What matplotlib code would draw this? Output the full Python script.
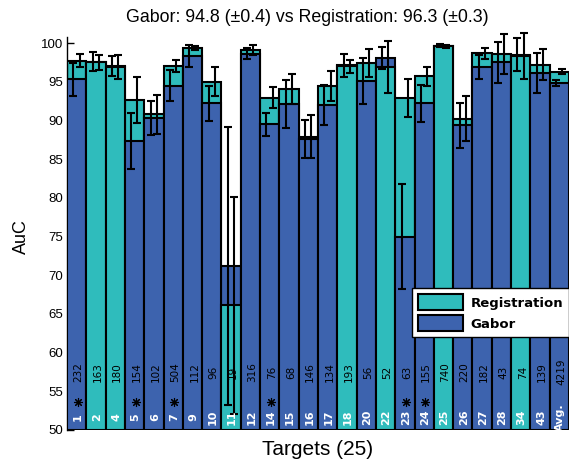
import numpy as np
import matplotlib
matplotlib.use('Agg')
import matplotlib.pyplot as plt
from matplotlib.patches import Patch

# data
targets = ['1', '2', '4', '5', '6', '7', '9', '10', '11', '12', '14', '15', '16',
           '17', '18', '20', '22', '23', '24', '25', '26', '27', '28', '34', '43', 'Avg.']
counts = [232, 163, 180, 154, 102, 504, 112, 96, 19, 316, 76, 68, 146,
          134, 193, 56, 52, 63, 155, 740, 220, 182, 43, 74, 139, 4219]
starred = ['1', '5', '7', '14', '23', '24']

gabor = [95.3, 97.6, 97.0, 87.3, 90.3, 94.5, 98.3, 92.2, 71.2, 98.6, 89.5, 92.1, 87.6,
         92.0, 97.1, 95.1, 98.1, 75.0, 92.2, 99.65, 89.4, 96.85, 97.5, 98.5, 96.1, 94.8]
gabor_err = [2.1, 1.2, 1.3, 3.6, 2.2, 2.0, 1.4, 2.3, 18.0, 0.7, 1.5, 3.1, 2.5,
             2.6, 1.5, 3.0, 1.45, 6.8, 2.35, 0.2, 2.9, 1.55, 2.7, 2.1, 2.6, 0.4]
reg = [97.7, 97.5, 96.9, 92.65, 90.8, 97.0, 99.35, 95.0, 66.1, 99.1, 92.95, 94.1, 87.9,
       94.4, 97.0, 97.4, 96.9, 92.9, 95.7, 99.6, 90.25, 98.7, 98.6, 98.3, 97.2, 96.3]
reg_err = [0.85, 1.0, 1.5, 3.0, 2.5, 0.75, 0.3, 1.9, 14.0, 0.6, 1.35, 1.95, 2.75,
           1.95, 0.85, 1.8, 3.35, 2.4, 1.2, 0.2, 2.85, 0.7, 2.6, 3.0, 2.0, 0.3]

teal = '#2FBCBC'
blue = '#3D63AE'
base = 50

fig = plt.figure(figsize=(5.69, 4.68), dpi=100)
ax = fig.add_axes([0.1178, 0.0812, 0.8822, 0.8268])

x = np.arange(len(targets))
# taller bar behind, shorter one in front
for i in x:
    g = gabor[i] - base
    r = reg[i] - base
    zg, zr = (2, 3) if g >= r else (3, 2)
    ax.bar(i, g, bottom=base, width=1.0, color=blue, edgecolor='black', linewidth=1.5, zorder=zg)
    ax.bar(i, r, bottom=base, width=1.0, color=teal, edgecolor='black', linewidth=1.5, zorder=zr)

eb_kw = dict(fmt='none', ecolor='black', elinewidth=1.5, capsize=2.6, capthick=1.5, zorder=5)
e1 = ax.errorbar(x - 0.17, gabor, yerr=gabor_err, **eb_kw)
e2 = ax.errorbar(x + 0.15, reg, yerr=reg_err, **eb_kw)
for e in (e1, e2):
    for art in e.lines[1] + e.lines[2]:
        art.set_clip_on(False)

# labels inside the bars
for i, t in enumerate(targets):
    ax.text(i + 0.05, 51.7, t, rotation=90, ha='center', va='center', color='white',
            fontsize=8, fontweight='bold', zorder=6)
    ax.text(i + 0.1, 57.5, str(counts[i]), rotation=90, ha='center', va='center',
            color='black', fontsize=7.5, zorder=6)

# asterisks for the marked targets
star_x = [targets.index(t) + 0.05 for t in starred]
ax.plot(star_x, [53.6] * len(star_x), linestyle='none', marker=(8, 2, 0),
        markersize=6.5, markeredgewidth=0.8, color='black', zorder=6)

ax.set_xlim(-0.5, len(targets) - 0.5)
ax.set_ylim(50, 100)
ax.set_yticks(np.arange(50, 101, 5))
ax.set_xticks([])
ax.tick_params(axis='y', direction='in', length=5, width=1, labelsize=9.5, pad=3)
for s in ['top', 'right', 'bottom']:
    ax.spines[s].set_visible(False)
ax.spines['left'].set_linewidth(1)
ax.spines['left'].set_bounds(50, 100.8)

for lab in ax.get_yticklabels():
    lab.set_family('Liberation Sans')
ax.set_ylabel('AuC', fontsize=13, family='Liberation Sans', labelpad=8)
ax.set_xlabel('Targets (25)', fontsize=15, family='Liberation Sans', labelpad=7)
fig.text(0.54, 0.963, 'Gabor: 94.8 (\u00b10.4) vs Registration: 96.3 (\u00b10.3)',
         ha='center', va='center', fontsize=12.8, family='Liberation Sans')

handles = [Patch(facecolor=teal, edgecolor='black', linewidth=1.5, label='Registration'),
           Patch(facecolor=blue, edgecolor='black', linewidth=1.5, label='Gabor')]
leg = ax.legend(handles=handles, loc='lower right', bbox_to_anchor=(1.0, 0.24),
                prop={'weight': 'bold', 'size': 9.5}, handlelength=3.4, handleheight=1.5,
                fancybox=False, framealpha=1, edgecolor='black', borderpad=0.45,
                labelspacing=0.35, handletextpad=0.6, borderaxespad=0)
leg.get_frame().set_linewidth(1)
leg.set_zorder(10)

fig.savefig('out.png', dpi=100)
